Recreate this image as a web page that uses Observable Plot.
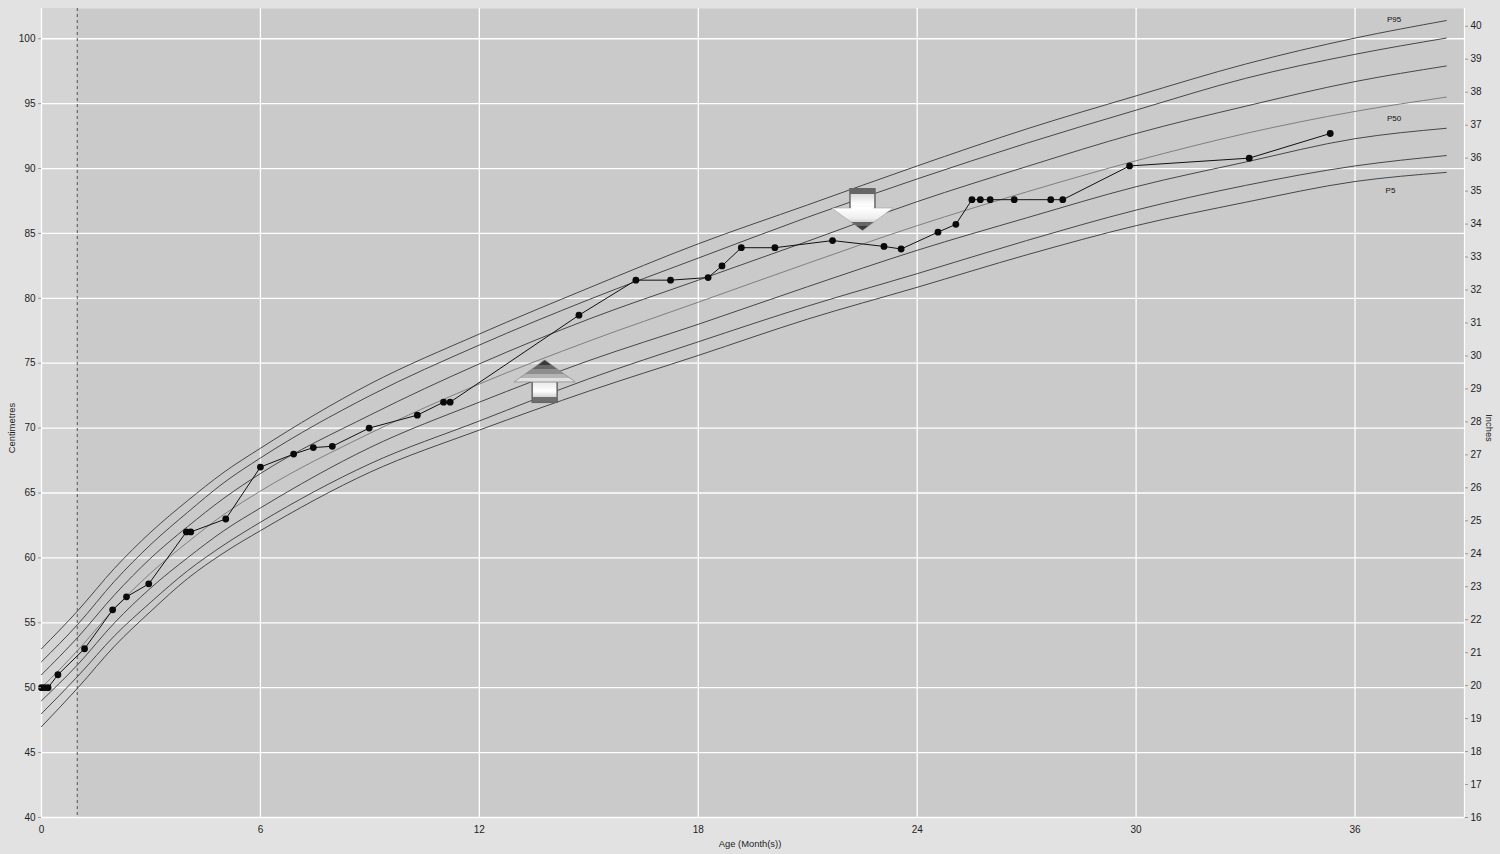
<!DOCTYPE html>
<html>
<head>
<meta charset="utf-8">
<script src="https://cdn.jsdelivr.net/npm/d3@7"></script>
<script src="https://cdn.jsdelivr.net/npm/@observablehq/plot@0.6"></script>
<style>
html,body{margin:0;padding:0;background:#e2e2e2;}
svg{display:block;}
</style>
</head>
<body>
<div id="chart"></div>
<script>
const curveMonths = [0,1,2,3,4,5,6,9,12,15,18,21,24,27,30,33,36,38.5];
const p95 = [53,55.95,59.2,62,64.4,66.6,68.45,73.4,77.25,80.8,84.2,87.2,90.2,93.05,95.6,98.05,100.05,101.4];
const p90 = [52,54.9,58.2,61.05,63.5,65.8,67.7,72.5,76.4,79.9,83.1,86.25,89.2,91.95,94.5,96.95,98.8,100.05];
const p75 = [51,53.9,57.15,60,62.4,64.6,66.5,71,74.95,78.4,81.4,84.4,87.45,90.15,92.7,94.8,96.7,97.9];
const p50 = [50,52.9,56.1,58.85,61.2,63.35,65.15,69.6,73.4,76.7,79.7,82.7,85.6,88.2,90.6,92.7,94.4,95.5];
const p25 = [49,51.8,55,57.7,60,62.1,63.85,68.5,72,75.2,78,80.9,83.7,86.2,88.6,90.5,92.3,93.1];
const p10 = [48,50.9,54,56.6,59,61,62.75,67.25,70.55,73.8,76.65,79.4,81.9,84.45,86.8,88.7,90.2,91];
const p5  = [47,50,53.2,55.9,58.4,60.4,62.1,66.6,69.85,72.85,75.6,78.4,80.85,83.35,85.6,87.4,89,89.7];
const centiles = [["P95",p95],["P90",p90],["P75",p75],["P50",p50],["P25",p25],["P10",p10],["P5",p5]];

const ageMonths = [0,0.08,0.18,0.45,1.18,1.95,2.33,2.94,3.97,4.09,5.05,6,6.91,7.45,7.97,8.98,10.3,11.02,11.2,14.73,16.29,17.24,18.27,18.65,19.18,20.1,21.68,23.09,23.56,24.57,25.06,25.5,25.73,26,26.66,27.66,27.99,29.82,33.1,35.32];
const lengthCm = [50,50,50,51,53,56,57,58,62,62,63,67,68,68.5,68.6,70,71,72,72,78.7,81.4,81.4,81.6,82.5,83.9,83.9,84.45,84,83.8,85.1,85.7,87.6,87.6,87.6,87.6,87.6,87.6,90.2,90.8,92.7];

const xTicks = [0,6,12,18,24,30,36];
const cmTicks = [40,45,50,55,60,65,70,75,80,85,90,95,100];
const inchTicks = d3.range(16,41);
const inchToAxis = i => 40 + (i-16)*2.54;
const axisToInch = v => Math.round((v-40)/2.54 + 16);
const dashedAge = [0.98];
const curveLabels = [
  {text:"P95", x:37.07, y:101.48},
  {text:"P50", x:37.07, y:93.85},
  {text:"P5",  x:36.97, y:88.3}
];
const arrowMarks = [
  {dir:"up", x:13.79, y:73.6},
  {dir:"down", x:22.5, y:86.84}
];
const firstMonthBand = [{a:0, b:0.98, lo:40, hi:102.33}];

function arrowSrc(dir){
  const up = `<svg xmlns="http://www.w3.org/2000/svg" width="124" height="88" viewBox="0 0 62 44">
  <defs>
  <linearGradient id="h" x1="0" y1="0" x2="0" y2="1">
    <stop offset="0" stop-color="#3a3a3a"/><stop offset=".22" stop-color="#3a3a3a"/>
    <stop offset=".22" stop-color="#666"/><stop offset=".42" stop-color="#666"/>
    <stop offset=".42" stop-color="#8e8e8e"/><stop offset=".62" stop-color="#8e8e8e"/>
    <stop offset=".62" stop-color="#b4b4b4"/><stop offset=".82" stop-color="#b4b4b4"/>
    <stop offset=".82" stop-color="#e0e0e0"/><stop offset="1" stop-color="#e0e0e0"/>
  </linearGradient>
  <linearGradient id="b" x1="0" y1="0" x2="0" y2="1">
    <stop offset="0" stop-color="#e6e6e6"/><stop offset=".45" stop-color="#ffffff"/>
    <stop offset=".72" stop-color="#d8d8d8"/><stop offset=".72" stop-color="#6e6e6e"/><stop offset="1" stop-color="#6e6e6e"/>
  </linearGradient></defs>
  <rect x="18.5" y="22" width="25" height="21" fill="url(#b)" stroke="#666" stroke-width="1.5"/>
  <path d="M31 .5 L61.5 22.5 L.5 22.5 Z" fill="url(#h)" stroke="#777" stroke-width=".6"/>
  </svg>`;
  const down = `<svg xmlns="http://www.w3.org/2000/svg" width="124" height="88" viewBox="0 0 62 44">
  <defs>
  <linearGradient id="h" x1="0" y1="1" x2="0" y2="0">
    <stop offset="0" stop-color="#3a3a3a"/><stop offset=".18" stop-color="#3a3a3a"/>
    <stop offset=".18" stop-color="#666"/><stop offset=".36" stop-color="#666"/>
    <stop offset=".36" stop-color="#cfcfcf"/><stop offset=".55" stop-color="#eee"/>
    <stop offset="1" stop-color="#fff"/>
  </linearGradient>
  <linearGradient id="b" x1="0" y1="0" x2="0" y2="1">
    <stop offset="0" stop-color="#666"/><stop offset=".25" stop-color="#666"/>
    <stop offset=".25" stop-color="#d8d8d8"/><stop offset=".75" stop-color="#ffffff"/><stop offset="1" stop-color="#eee"/>
  </linearGradient></defs>
  <rect x="18.5" y="1" width="25" height="21" fill="url(#b)" stroke="#666" stroke-width="1.5"/>
  <path d="M.5 20.5 L61.5 20.5 L31 43 Z" fill="url(#h)" stroke="#999" stroke-width=".5"/>
  <rect x="20" y="19" width="22" height="3" fill="#fff"/>
  </svg>`;
  return "data:image/svg+xml," + encodeURIComponent(dir === "up" ? up : down);
}

const curveRows = centiles.flatMap(([name, values]) => values.map((v,i)=>({name, age:curveMonths[i], cm:v})));
const childRows = ageMonths.map((a,i)=>({age:a, cm:lengthCm[i]}));

const fontFamily = "'Liberation Sans', Arial, sans-serif";
const chart = Plot.plot({
  width:1500, height:854,
  marginLeft:41, marginRight:36, marginTop:8, marginBottom:37,
  x:{domain:[0,39], label:null},
  y:{domain:[40,102.33], label:null},
  style:{background:"#e2e2e2", fontFamily, fontSize:"10px", color:"#222"},
  marks:[
    Plot.frame({fill:"#cacaca", stroke:null}),
    Plot.rect(firstMonthBand,{x1:"a", x2:"b", y1:"lo", y2:"hi", fill:"#d4d4d4"}),
    Plot.ruleY(cmTicks,{stroke:"white", strokeWidth:1.3}),
    Plot.ruleX(xTicks,{stroke:"white", strokeWidth:1.3}),
    Plot.ruleX([39],{stroke:"white", strokeWidth:1.2}),
    Plot.ruleX(dashedAge,{stroke:"#555", strokeWidth:1, strokeDasharray:"3,3"}),
    Plot.line(curveRows.filter(d=>d.name!=="P50"),{x:"age", y:"cm", z:"name", stroke:"#474747", strokeWidth:1, curve:"monotone-x"}),
    Plot.line(curveRows.filter(d=>d.name==="P50"),{x:"age", y:"cm", stroke:"#7f7f7f", strokeWidth:1, curve:"monotone-x"}),
    Plot.line(childRows,{x:"age", y:"cm", stroke:"#111", strokeWidth:1}),
    Plot.dot(childRows,{x:"age", y:"cm", r:3.4, fill:"#0a0a0a", stroke:"none"}),
    Plot.image(arrowMarks,{x:"x", y:"y", width:62, height:44, src:d=>arrowSrc(d.dir), preserveAspectRatio:"none"}),
    Plot.text(curveLabels,{x:"x", y:"y", text:"text", fontSize:8, fill:"#111"}),
    Plot.axisX(xTicks,{anchor:"bottom", tickSize:0, tickPadding:8, label:null, fontSize:10}),
    Plot.axisY(cmTicks,{anchor:"left", tickSize:3, tickPadding:3, label:null, fontSize:10, stroke:"#999"}),
    Plot.axisY(inchTicks.map(inchToAxis),{anchor:"right", tickSize:3, tickPadding:3, label:null, fontSize:10, stroke:"#999", tickFormat:axisToInch}),
    Plot.text(["Centimetres"],{frameAnchor:"left", textAnchor:"middle", dx:-30, dy:15, rotate:-90, fontSize:9.4, fill:"#222"}),
    Plot.text(["Inches"],{frameAnchor:"right", textAnchor:"middle", dx:25, dy:15, rotate:90, fontSize:9.4, fill:"#222"}),
    Plot.text(["Age (Month(s))"],{frameAnchor:"bottom", dx:-3, dy:29, fontSize:9.4, fill:"#222"})
  ]
});
document.getElementById("chart").appendChild(chart);
</script>
</body>
</html>
